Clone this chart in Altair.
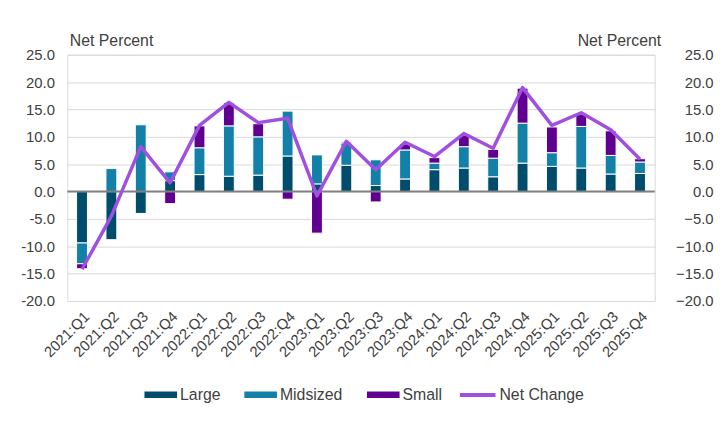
import altair as alt
import pandas as pd

quarters = ["2021:Q1", "2021:Q2", "2021:Q3", "2021:Q4",
            "2022:Q1", "2022:Q2", "2022:Q3", "2022:Q4",
            "2023:Q1", "2023:Q2", "2023:Q3", "2023:Q4",
            "2024:Q1", "2024:Q2", "2024:Q3", "2024:Q4",
            "2025:Q1", "2025:Q2", "2025:Q3", "2025:Q4"]
large = [-9.4, -8.8, -4.0, 2.0, 3.1, 2.8, 3.0, 6.5, 1.4, 4.8, 1.1, 2.3,
         4.0, 4.3, 2.7, 5.2, 4.6, 4.3, 3.2, 3.3]
midsized = [-3.8, 4.2, 12.2, 1.6, 4.9, 9.2, 7.0, 8.2, 5.3, 4.1, 4.7, 5.3,
            1.2, 3.9, 3.4, 7.3, 2.5, 7.6, 3.4, 2.1]
small = [-0.9, 0.0, 0.0, -2.2, 4.0, 4.2, 2.4, -1.4, -7.6, 0.2, -1.9, 1.1,
         1.0, 2.1, 1.6, 6.4, 4.7, 2.2, 4.5, 0.6]
net_change = [-14.2, -4.5, 8.2, 1.6, 12.1, 16.3, 12.6, 13.4, -0.8, 9.2, 4.0, 9.0,
              6.4, 10.6, 7.9, 19.0, 12.1, 14.4, 11.3, 5.9]

series_names = ["Large", "Midsized", "Small"]
series_colors = ["#004C6D", "#1380A8", "#600090"]
line_name = "Net Change"
line_color = "#A050E0"
y_ticks = [-20, -15, -10, -5, 0, 5, 10, 15, 20, 25]

rows = []
for s_i, (name, vals) in enumerate(zip(series_names, [large, midsized, small])):
    for q, v in zip(quarters, vals):
        rows.append({"quarter": q, "series": name, "value": v, "order": s_i})
bars_df = pd.DataFrame(rows)
line_df = pd.DataFrame({"quarter": quarters, "value": net_change,
                        "series": [line_name] * len(quarters)})
zero_df = pd.DataFrame({"zero": [0]})

FONT = "Liberation Sans"
TXT = "#404040"

x_enc = alt.X("quarter:N", sort=quarters,
              scale=alt.Scale(paddingInner=0, paddingOuter=0),
              axis=alt.Axis(title=None, labelAngle=-45, ticks=False, tickSize=0,
                            domain=False, labelPadding=8, grid=False))

def y_scale():
    return alt.Scale(domain=[-20, 25], nice=False, zero=False)

left_axis = alt.Axis(values=y_ticks,
                     labelExpr="replace(format(datum.value, '.1f'), '\u2212', '-')",
                     title="Net Percent", titleAngle=0, titleX=2, titleY=-9,
                     titleAlign="left", titleBaseline="alphabetic",
                     grid=True, gridColor="#D9D9D9", gridWidth=1,
                     domain=False, ticks=False, tickSize=0, labelPadding=13)
right_axis = alt.Axis(orient="right", values=y_ticks, format=".1f",
                      labelAlign="right", labelPadding=59,
                      title="Net Percent", titleAngle=0, titleX=6, titleY=-9,
                      titleAlign="right", titleBaseline="alphabetic",
                      grid=False, domain=False, ticks=False, tickSize=0)

bars = alt.Chart(bars_df).transform_filter("datum.value != 0").mark_bar(
    size=11, stroke="white", strokeWidth=1
).encode(
    x=x_enc,
    y=alt.Y("value:Q", stack="zero", scale=y_scale(), axis=left_axis),
    fill=alt.Fill("series:N",
                  scale=alt.Scale(domain=series_names, range=series_colors),
                  legend=alt.Legend(title=None, orient="none", legendX=78, legendY=327,
                                    direction="horizontal", padding=0,
                                    symbolType="M-1,-0.2H1V0.2H-1Z", symbolSize=1089,
                                    symbolStrokeWidth=0, labelOffset=3,
                                    columnPadding=24)),
    order=alt.Order("order:Q", sort="ascending"),
)

zero_rule = alt.Chart(zero_df).mark_rule(color="#808080", strokeWidth=2).encode(
    y=alt.Y("zero:Q", scale=y_scale(), axis=None)
)

line = alt.Chart(line_df).mark_line(strokeWidth=3.5, strokeJoin="round").encode(
    x=x_enc,
    y=alt.Y("value:Q", scale=y_scale(), axis=right_axis),
    stroke=alt.Stroke("series:N",
                      scale=alt.Scale(domain=[line_name], range=[line_color]),
                      legend=alt.Legend(title=None, orient="none", legendX=395, legendY=324,
                                        direction="horizontal", padding=0,
                                        symbolType="stroke", symbolSize=1296,
                                        symbolStrokeWidth=4, labelOffset=2)),
)

chart = alt.layer(bars, zero_rule, line).resolve_scale(
    y="independent", fill="independent", stroke="independent"
).properties(
    width=594, height=249,
    autosize=alt.AutoSizeParams(type="none"),
    padding={"left": 60, "top": 45, "right": 63, "bottom": 111},
).configure_view(
    stroke="#D9D9D9", strokeWidth=1
).configure_axis(
    labelFont=FONT, labelFontSize=15, labelColor=TXT,
    titleFont=FONT, titleFontSize=16, titleColor=TXT, titleFontWeight="normal",
).configure_legend(
    labelFont=FONT, labelFontSize=16, labelColor=TXT,
)

chart.save("out.html", embed_options={"renderer": "svg", "actions": False})
